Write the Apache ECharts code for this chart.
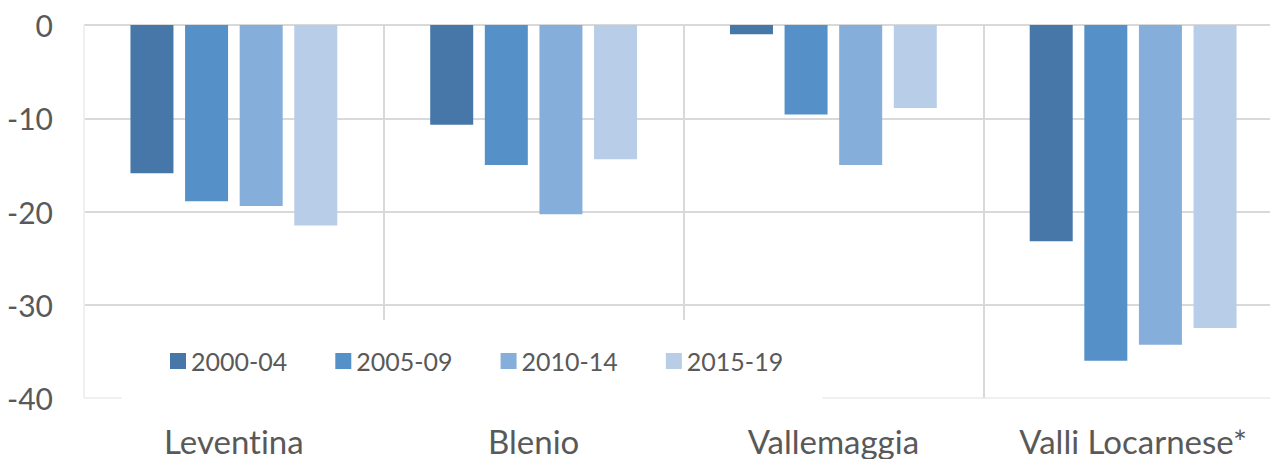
<!DOCTYPE html>
<html>
<head>
    <meta charset="utf-8">
    <title>Valli</title>
    <script src="https://cdn.jsdelivr.net/npm/echarts@6/dist/echarts.min.js"></script>
    <style>
        html, body { margin: 0; padding: 0; background: #fff; }
        #main text { font-variant-ligatures: none; }
    </style>
</head>
<body>
    <div id="main" style="width: 1270px;height: 459px;"></div>
</body>

<script>
    // dati
    var valli = ['Leventina', 'Blenio', 'Vallemaggia', 'Valli Locarnese*'];
    var periodi = ['2000-04', '2005-09', '2010-14', '2015-19'];
    var v2000 = [-15.9, -10.7, -1.0, -23.2];
    var v2005 = [-18.9, -15.0, -9.6, -36.0];
    var v2010 = [-19.4, -20.3, -15.0, -34.3];
    var v2015 = [-21.5, -14.4, -8.9, -32.5];
    var yTicks = [-40, -30, -20, -10, 0];

    var colori = ['#4677a8', '#5591c8', '#86aedb', '#b8cde8'];
    var valori = [v2000, v2005, v2010, v2015];
    var font = 'Lato, "Open Sans", sans-serif';
    var grigio = '#595959';

    var series = periodi.map(function (p, i) {
        return {
            name: p,
            type: 'bar',
            barWidth: 43,
            barGap: '27%',
            data: valori[i],
            itemStyle: { color: colori[i] }
        };
    });

    var option = {
        animation: false,
        color: colori,
        grid: { left: 84, top: 25, width: 1199, height: 373, outerBoundsMode: 'none' },
        legend: {
            data: periodi,
            left: 122,
            top: 320,
            padding: [26, 39, 24, 48],
            backgroundColor: '#fff',
            icon: 'rect',
            itemWidth: 16,
            itemHeight: 16,
            itemGap: 48,
            textStyle: { fontFamily: font, fontSize: 25, color: grigio, lineHeight: 30 }
        },
        xAxis: {
            type: 'category',
            data: valli,
            axisLine: { show: false },
            axisTick: { show: false },
            splitLine: {
                show: true,
                lineStyle: { color: ['#f0f0f0', '#d9d9d9', '#d9d9d9', '#d9d9d9', '#d9d9d9'], width: 2 }
            },
            axisLabel: { fontFamily: font, fontSize: 33, color: grigio, margin: 26 }
        },
        yAxis: {
            type: 'value',
            min: yTicks[0],
            max: yTicks[yTicks.length - 1],
            interval: 10,
            axisLine: { show: false },
            axisTick: { show: false },
            splitLine: {
                lineStyle: { color: ['#f0f0f0', '#d9d9d9', '#d9d9d9', '#d9d9d9', '#d9d9d9'], width: 2 }
            },
            axisLabel: { fontFamily: font, fontSize: 30, color: grigio, margin: 31 }
        },
        series: series
    };

    // svg: il CSS sopra toglie la legatura "ti"
    var chart = echarts.init(document.getElementById('main'), null, { renderer: 'svg' });
    chart.setOption(option);
</script>
</html>
